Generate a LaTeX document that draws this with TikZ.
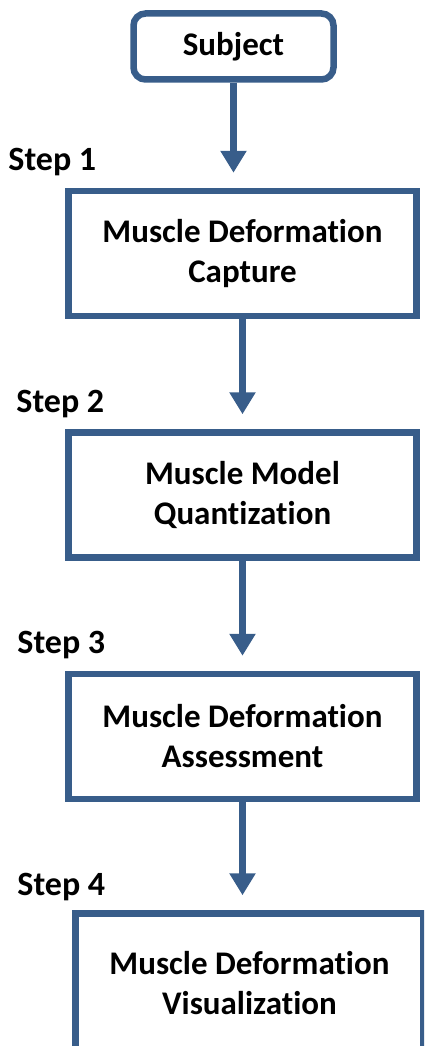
\documentclass[tikz,border=0pt]{standalone}
\usepackage{fontspec}
\setmainfont{Carlito}[Ligatures=NoCommon]
\usetikzlibrary{arrows.meta,positioning}
\definecolor{stepline}{RGB}{56,93,138}
\tikzset{
  flow/.style={-{Triangle[width=25pt,length=22pt]},line width=7pt,draw=stepline,shorten >=15pt},
  stage/.style={draw=stepline,line width=6.5pt,fill=white,align=center,
    font=\fontsize{33}{40}\selectfont\bfseries,minimum width=348pt,minimum height=125pt},
  start/.style={stage,rounded corners=12pt,minimum width=200pt,minimum height=66pt},
  steplbl/.style={font=\fontsize{34}{40}\selectfont\bfseries,anchor=base west,inner sep=0pt},
}
\begin{document}
\begin{tikzpicture}[x=1pt,y=1pt]
\useasboundingbox (0,0) rectangle (424,-1046);
\clip (0,0) rectangle (424,-1046);
\node[start] (subj) at (233.5,-46.5) {Subject};
\node[stage,below=105pt of subj,xshift=9pt] (cap) {Muscle Deformation\\Capture};
\node[stage,below=110pt of cap] (quant) {Muscle Model\\Quantization};
\node[stage,below=110pt of quant] (assess) {Muscle Deformation\\Assessment};
\node[stage,below=108pt of assess,xshift=7pt,minimum height=140pt] (vis) {Muscle Deformation\\Visualization};
\node[steplbl] (lbl1) at ([xshift=-57pt,yshift=17pt]cap.north west) {Step 1};
\node[steplbl] (lbl2) at ([xshift=-49pt,yshift=17pt]quant.north west) {Step 2};
\node[steplbl] (lbl3) at ([xshift=-48pt,yshift=17pt]assess.north west) {Step 3};
\node[steplbl] (lbl4) at ([xshift=-55pt,yshift=15pt]vis.north west) {Step 4};
\foreach \a/\b in {subj/cap,cap/quant,quant/assess,assess/vis} \draw[flow] (\a.south) -- (\a.south |- \b.north);
\end{tikzpicture}
\end{document}
